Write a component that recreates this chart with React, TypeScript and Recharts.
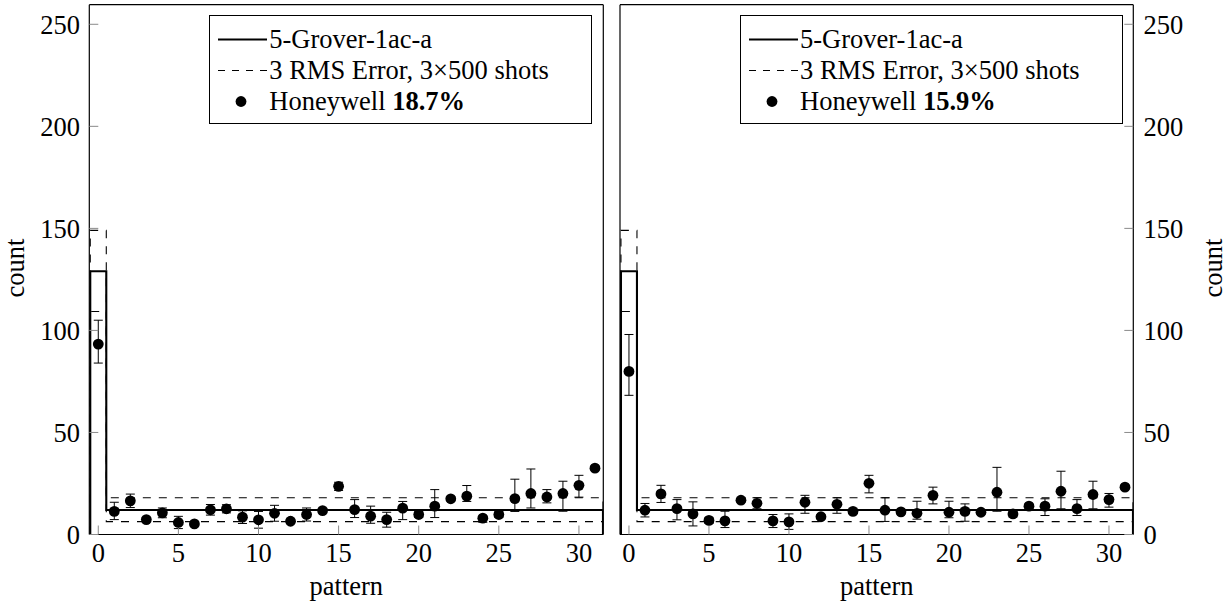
import React from "react";
import { ComposedChart, Line, Scatter, XAxis, YAxis, ErrorBar } from "recharts";

const FONT = '"Liberation Serif", "Times New Roman", serif';
const W = 1228;
const H = 604;
const TICK_GRAY = "#8a8a8a";

// pattern index on x
const patterns = [
  0, 1, 2, 3, 4, 5, 6, 7, 8, 9, 10, 11, 12, 13, 14, 15, 16, 17, 18, 19, 20,
  21, 22, 23, 24, 25, 26, 27, 28, 29, 30, 31,
];

// ideal 5-Grover-1ac-a counts and the 3 RMS error band
const idealCounts = [
  129, 12, 12, 12, 12, 12, 12, 12, 12, 12, 12, 12, 12, 12, 12, 12, 12, 12, 12,
  12, 12, 12, 12, 12, 12, 12, 12, 12, 12, 12, 12, 12,
];
const upperBound = [
  149, 18, 18, 18, 18, 18, 18, 18, 18, 18, 18, 18, 18, 18, 18, 18, 18, 18, 18,
  18, 18, 18, 18, 18, 18, 18, 18, 18, 18, 18, 18, 18,
];
const lowerBound = [
  109.3, 6.3, 6.3, 6.3, 6.3, 6.3, 6.3, 6.3, 6.3, 6.3, 6.3, 6.3, 6.3, 6.3, 6.3,
  6.3, 6.3, 6.3, 6.3, 6.3, 6.3, 6.3, 6.3, 6.3, 6.3, 6.3, 6.3, 6.3, 6.3, 6.3,
  6.3, 6.3,
];

// Honeywell, left panel (18.7%)
const leftCounts = [
  93.3, 11.3, 16.5, 7.3, 10.6, 5.9, 5.2, 12.1, 12.6, 8.5, 7.2, 10.4, 6.5, 9.8,
  11.7, 23.6, 12.2, 9.0, 7.3, 12.9, 9.8, 13.9, 17.5, 18.8, 8.0, 9.8, 17.6, 20.1,
  18.4, 20.1, 24.1, 32.5,
];
const leftErrLow = [
  9.3, 4.0, 3.3, 1.1, 2.4, 3.0, 1.0, 2.6, 2.0, 3.1, 4.1, 3.9, 1.0, 3.2, 1.0,
  2.0, 3.9, 3.5, 3.7, 5.6, 1.5, 5.6, 1.0, 2.6, 2.0, 1.5, 6.3, 7.1, 2.9, 8.7,
  5.8, 1.0,
];
const leftErrHigh = [
  11.7, 4.5, 3.3, 1.1, 2.4, 3.0, 1.0, 2.6, 2.0, 3.1, 4.1, 3.9, 1.0, 3.2, 1.0,
  2.0, 4.9, 4.9, 3.6, 3.3, 1.5, 8.1, 1.0, 5.2, 1.0, 1.5, 9.5, 12.0, 3.6, 6.0,
  4.9, 1.0,
];

// Honeywell, right panel (15.9%)
const rightCounts = [
  79.9, 11.9, 19.9, 12.7, 10.1, 6.9, 6.7, 16.8, 15.3, 6.7, 6.2, 15.8, 8.7, 14.8,
  11.3, 25.1, 11.9, 11.1, 10.4, 19.2, 10.9, 11.3, 10.9, 20.7, 10.1, 13.9, 13.9,
  21.2, 12.7, 19.6, 17.1, 23.2,
];
const rightErrLow = [
  11.7, 3.3, 4.2, 5.5, 5.9, 1.5, 3.3, 1.0, 2.7, 3.3, 3.7, 5.4, 1.0, 4.4, 1.0,
  4.7, 5.5, 1.0, 2.9, 4.2, 2.7, 4.8, 1.0, 9.3, 1.5, 1.0, 4.6, 8.6, 3.4, 7.0,
  3.7, 1.0,
];
const rightErrHigh = [
  18.1, 3.3, 4.2, 4.4, 5.9, 1.5, 4.7, 1.0, 2.7, 3.1, 3.9, 3.4, 1.0, 3.2, 1.0,
  3.9, 6.1, 1.0, 5.9, 4.0, 5.4, 3.7, 1.0, 12.2, 1.5, 1.0, 3.6, 9.8, 4.4, 6.5,
  3.0, 1.0,
];

const xTicks = [0, 5, 10, 15, 20, 25, 30];
const yTicks = [0, 50, 100, 150, 200, 250];
const X_DOMAIN = [-0.56, 31.52];
const Y_DOMAIN = [0, 259.6];

// histogram-like outline from per-pattern values
function stepOutline(values: number[]) {
  const pts = [{ x: patterns[0] - 0.5, y: 0 }];
  values.forEach((v, i) => {
    pts.push({ x: patterns[i] - 0.5, y: v });
    pts.push({ x: patterns[i] + 0.5, y: v });
  });
  pts.push({ x: patterns[patterns.length - 1] + 0.5, y: 0 });
  return pts;
}

const tickText = { fontFamily: FONT, fontSize: 26.5, fill: "#000" };

const Dot = (props: any) => (
  <circle cx={props.cx} cy={props.cy} r={5.4} fill="#000" />
);

type PanelProps = {
  counts: number[];
  errLow: number[];
  errHigh: number[];
  side: "left" | "right";
};

const Panel: React.FC<PanelProps> = ({ counts, errLow, errHigh, side }) => {
  const isLeft = side === "left";
  const points = patterns.map((p, i) => ({
    x: p,
    y: counts[i],
    err: [errLow[i], errHigh[i]],
  }));
  const margin = isLeft
    ? { top: 4.7, right: W - 603.3, bottom: 0, left: 0 }
    : { top: 4.7, right: 0, bottom: 0, left: 620 };

  return (
    <div style={{ position: "absolute", left: 0, top: 0 }}>
      <ComposedChart width={W} height={H} margin={margin}>
        <XAxis
          xAxisId="b"
          dataKey="x"
          type="number"
          domain={X_DOMAIN}
          allowDataOverflow
          ticks={xTicks}
          interval={0}
          height={H - 534.5}
          tickSize={-9}
          tickMargin={17.5}
          tick={tickText}
          tickLine={{ stroke: TICK_GRAY }}
          axisLine={{ stroke: "#000", strokeWidth: 1.2 }}
        />
        <XAxis
          xAxisId="t"
          orientation="top"
          dataKey="x"
          type="number"
          domain={X_DOMAIN}
          allowDataOverflow
          ticks={xTicks}
          interval={0}
          mirror
          tickSize={9}
          tick={false}
          tickLine={{ stroke: TICK_GRAY }}
          axisLine={{ stroke: "#000", strokeWidth: 1.2 }}
        />
        <YAxis
          yAxisId="l"
          orientation="left"
          type="number"
          domain={Y_DOMAIN}
          allowDataOverflow
          ticks={yTicks}
          interval={0}
          width={isLeft ? 89.3 : 60}
          mirror={!isLeft}
          tickSize={isLeft ? -9 : 9}
          tickMargin={isLeft ? 18.3 : 0}
          tick={isLeft ? tickText : false}
          tickLine={{ stroke: TICK_GRAY }}
          axisLine={{ stroke: "#000", strokeWidth: 1.2 }}
        />
        <YAxis
          yAxisId="r"
          orientation="right"
          type="number"
          domain={Y_DOMAIN}
          allowDataOverflow
          ticks={yTicks}
          interval={0}
          width={isLeft ? 60 : W - 1133.3}
          mirror={isLeft}
          tickSize={isLeft ? 9 : -9}
          tickMargin={isLeft ? 0 : 19.2}
          tick={isLeft ? false : tickText}
          tickLine={{ stroke: TICK_GRAY }}
          axisLine={{ stroke: "#000", strokeWidth: 1.2 }}
        />
        <Line
          xAxisId="b"
          yAxisId="l"
          data={stepOutline(upperBound)}
          dataKey="y"
          type="linear"
          stroke="#000"
          strokeWidth={1.1}
          strokeDasharray="8 8"
          dot={false}
          isAnimationActive={false}
        />
        <Line
          xAxisId="b"
          yAxisId="l"
          data={stepOutline(lowerBound)}
          dataKey="y"
          type="linear"
          stroke="#000"
          strokeWidth={1.1}
          strokeDasharray="8 8"
          dot={false}
          isAnimationActive={false}
        />
        <Line
          xAxisId="b"
          yAxisId="l"
          data={stepOutline(idealCounts)}
          dataKey="y"
          type="linear"
          stroke="#000"
          strokeWidth={2.1}
          dot={false}
          isAnimationActive={false}
        />
        <Scatter
          xAxisId="b"
          yAxisId="l"
          data={points}
          dataKey="y"
          shape={Dot}
          isAnimationActive={false}
        >
          <ErrorBar
            dataKey="err"
            direction="y"
            width={4.5}
            stroke="#000"
            strokeWidth={1}
            isAnimationActive={false}
          />
        </Scatter>
      </ComposedChart>
    </div>
  );
};

const LegendBox: React.FC<{ left: number; pct: string }> = ({ left, pct }) => {
  const row = { display: "flex", alignItems: "center", height: 31 };
  return (
    <div
      style={{
        position: "absolute",
        left,
        top: 15,
        width: 383,
        height: 109,
        border: "1px solid #000",
        background: "#fff",
        fontFamily: FONT,
        fontSize: 26.5,
        color: "#000",
        paddingTop: 8,
        boxSizing: "border-box",
      }}
    >
      <div style={row}>
        <svg width={59} height={31}>
          <line x1={8} y1={15.5} x2={57} y2={15.5} stroke="#000" strokeWidth={2.1} />
        </svg>
        <span>5-Grover-1ac-a</span>
      </div>
      <div style={row}>
        <svg width={59} height={31}>
          <line
            x1={8}
            y1={15.5}
            x2={57}
            y2={15.5}
            stroke="#000"
            strokeWidth={1.1}
            strokeDasharray="7 7"
          />
        </svg>
        <span>3 RMS Error, 3×500 shots</span>
      </div>
      <div style={row}>
        <svg width={59} height={31}>
          <circle cx={31} cy={15.5} r={5.4} fill="#000" />
        </svg>
        <span>
          Honeywell <b>{pct}</b>
        </span>
      </div>
    </div>
  );
};

const labelStyle: React.CSSProperties = {
  position: "absolute",
  fontFamily: FONT,
  fontSize: 26.5,
  color: "#000",
  whiteSpace: "nowrap",
  transform: "translate(-50%, -50%)",
};

export default function App() {
  return (
    <div
      style={{
        position: "absolute",
        left: 0,
        top: 0,
        width: W,
        height: H,
        background: "#fff",
        overflow: "hidden",
      }}
    >
      <Panel
        counts={leftCounts}
        errLow={leftErrLow}
        errHigh={leftErrHigh}
        side="left"
      />
      <Panel
        counts={rightCounts}
        errLow={rightErrLow}
        errHigh={rightErrHigh}
        side="right"
      />
      <LegendBox left={209.3} pct="18.7%" />
      <LegendBox left={740} pct="15.9%" />
      <div style={{ ...labelStyle, left: 346.3, top: 586 }}>pattern</div>
      <div style={{ ...labelStyle, left: 876.7, top: 586 }}>pattern</div>
      <div
        style={{
          ...labelStyle,
          left: 15,
          top: 268,
          transform: "translate(-50%, -50%) rotate(-90deg)",
        }}
      >
        count
      </div>
      <div
        style={{
          ...labelStyle,
          left: 1213,
          top: 268,
          transform: "translate(-50%, -50%) rotate(-90deg)",
        }}
      >
        count
      </div>
    </div>
  );
}
